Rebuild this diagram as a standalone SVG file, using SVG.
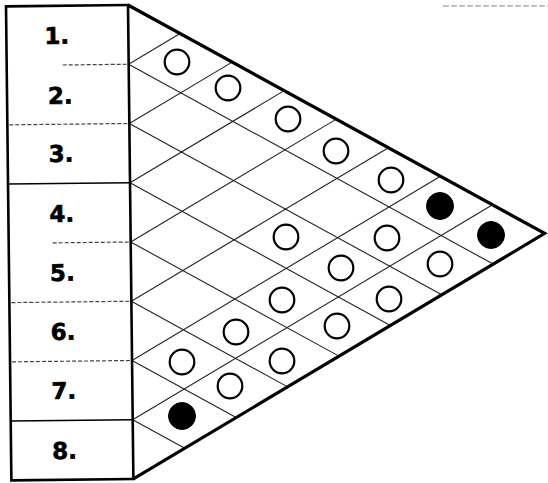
<svg xmlns="http://www.w3.org/2000/svg" width="548" height="483" viewBox="0 0 548 483">
<style>
.lbl{font-family:"DejaVu Sans","Liberation Sans",sans-serif;font-weight:bold;font-size:23px;fill:#000;stroke:#000;stroke-width:0.6}
.edge{fill:none;stroke:#000;stroke-width:3.2;stroke-linejoin:miter}
.box{fill:none;stroke:#000;stroke-width:2.6}
.sep{stroke:#000;stroke-width:1.5}
.sepd{stroke:#444;stroke-width:1.2;stroke-dasharray:4 2}
.grid{stroke:#222;stroke-width:1.1;fill:none}
.o{fill:#fff;stroke:#000;stroke-width:2.2}
.f{fill:#000;stroke:#000;stroke-width:1}
</style>
<rect width="548" height="483" fill="#fff"/>
<g transform="rotate(-0.65 128 5)">
  <g id="connectors">
    <line class="grid" x1="128" y1="64.25" x2="490.2" y2="268.2"/>
    <line class="grid" x1="128" y1="123.5" x2="438.5" y2="298.3"/>
    <line class="grid" x1="128" y1="182.75" x2="386.75" y2="328.4"/>
    <line class="grid" x1="128" y1="242" x2="335" y2="358.5"/>
    <line class="grid" x1="128" y1="301.25" x2="283.25" y2="388.65"/>
    <line class="grid" x1="128" y1="360.5" x2="231.5" y2="418.8"/>
    <line class="grid" x1="128" y1="419.75" x2="179.75" y2="448.9"/>
    <line class="grid" x1="128" y1="64.25" x2="179.75" y2="34.1"/>
    <line class="grid" x1="128" y1="123.5" x2="231.5" y2="63.3"/>
    <line class="grid" x1="128" y1="182.75" x2="283.25" y2="92.4"/>
    <line class="grid" x1="128" y1="242" x2="335" y2="121.5"/>
    <line class="grid" x1="128" y1="301.25" x2="386.75" y2="150.6"/>
    <line class="grid" x1="128" y1="360.5" x2="438.5" y2="179.8"/>
    <line class="grid" x1="128" y1="419.75" x2="490.25" y2="208.9"/>
  </g>
  <g id="triangle">
    <polyline class="edge" points="128,5 542,238.1 128,479"/>
  </g>
  <g id="rows">
    <rect class="box" x="6" y="5" width="122" height="474"/>
    <line class="sepd" x1="62" y1="64.25" x2="128" y2="64.25"/>
    <line class="sepd" x1="8" y1="123.5" x2="128" y2="123.5"/>
    <line class="sep" x1="6" y1="182.75" x2="128" y2="182.75"/>
    <line class="sepd" x1="50" y1="242" x2="128" y2="242"/>
    <line class="sepd" x1="8" y1="301.25" x2="128" y2="301.25"/>
    <line class="sepd" x1="8" y1="360.5" x2="128" y2="360.5"/>
    <line class="sep" x1="6" y1="419.75" x2="128" y2="419.75"/>
    <g id="row-1"><text class="lbl" x="44" y="43">1.</text></g>
    <g id="row-2"><text class="lbl" x="47" y="103">2.</text></g>
    <g id="row-3"><text class="lbl" x="47" y="161">3.</text></g>
    <g id="row-4"><text class="lbl" x="47" y="221">4.</text></g>
    <g id="row-5"><text class="lbl" x="47" y="280">5.</text></g>
    <g id="row-6"><text class="lbl" x="47" y="339">6.</text></g>
    <g id="row-7"><text class="lbl" x="47" y="398">7.</text></g>
    <g id="row-8"><text class="lbl" x="47" y="458">8.</text></g>
  </g>
</g>
<line x1="443" y1="6" x2="548" y2="6" stroke="#888" stroke-width="1" stroke-dasharray="6 2"/>
<g id="pegs">
  <circle id="p1" class="o" cx="177" cy="62" r="12.3"/>
  <circle id="p2" class="o" cx="228" cy="88" r="12.3"/>
  <circle id="p3" class="o" cx="288" cy="119" r="12.3"/>
  <circle id="p4" class="o" cx="336" cy="151" r="12.3"/>
  <circle id="p5" class="o" cx="391" cy="180" r="12.3"/>
  <circle id="p6" class="f" cx="440" cy="206" r="13.5"/>
  <circle id="p7" class="f" cx="491" cy="235" r="13.5"/>
  <circle id="p8" class="o" cx="286" cy="237" r="12.3"/>
  <circle id="p9" class="o" cx="387" cy="238" r="12.3"/>
  <circle id="p10" class="o" cx="341" cy="268" r="12.3"/>
  <circle id="p11" class="o" cx="440" cy="264" r="12.3"/>
  <circle id="p12" class="o" cx="282" cy="300" r="12.3"/>
  <circle id="p13" class="o" cx="389" cy="299" r="12.3"/>
  <circle id="p14" class="o" cx="337" cy="326" r="12.3"/>
  <circle id="p15" class="o" cx="236" cy="332" r="12.3"/>
  <circle id="p16" class="o" cx="182" cy="362" r="12.3"/>
  <circle id="p17" class="o" cx="282" cy="361" r="12.3"/>
  <circle id="p18" class="o" cx="230" cy="386" r="12.3"/>
  <circle id="p19" class="f" cx="182" cy="416" r="13.5"/>
</g>
</svg>
